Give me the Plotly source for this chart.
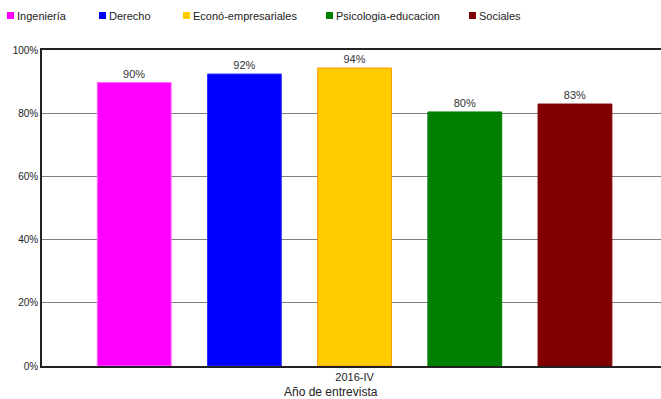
import plotly.graph_objects as go

periods = ["2016-IV"]
series_names = ["Ingeniería", "Derecho", "Econó-empresariales", "Psicologia-educacion", "Sociales"]
series_values = [
    [0.897],
    [0.924],
    [0.943],
    [0.804],
    [0.829],
]
colors = ["#FF00FF", "#0000FF", "#FFCC00", "#008000", "#800000"]
edge_colors = ["#FF66FF", "#3333FF", "#FF9900", "#008000", "#800000"]
y_ticks = [0, 0.2, 0.4, 0.6, 0.8, 1.0]

# plot area in pixels (for the hand-made legend along the top)
W, H = 661, 399
L, R, T, B = 42, 0, 50, 33
pw, ph = W - L - R, H - T - B
legend_px = [7, 99, 183, 326, 469]   # left edge of each legend square


def px_x(p):
    return (p - L) / pw


def px_y(p):
    return (H - B - p) / ph


fig = go.Figure()

for name, vals, c, ec in zip(series_names, series_values, colors, edge_colors):
    fig.add_trace(go.Bar(
        x=periods, y=vals, name=name,
        marker=dict(color=c, line=dict(color=ec, width=1)),
        texttemplate="%{y:.0%}", textposition="outside",
        textfont=dict(size=11, color="#333333"),
        cliponaxis=False,
    ))

shapes = []
annotations = []
for name, c, x0 in zip(series_names, colors, legend_px):
    shapes.append(dict(
        type="rect", xref="paper", yref="paper",
        x0=px_x(x0), x1=px_x(x0 + 7), y0=px_y(19), y1=px_y(12),
        fillcolor=c, line=dict(width=0),
    ))
    annotations.append(dict(
        text=name, xref="paper", yref="paper",
        x=px_x(x0 + 8), y=px_y(15.5), xanchor="left", yanchor="middle",
        showarrow=False, font=dict(size=11, color="#222222"),
    ))

annotations.append(dict(
    text="Año de entrevista", xref="paper", yref="paper",
    x=0.467, y=0, yshift=-26, xanchor="center", yanchor="middle",
    showarrow=False, font=dict(size=12, color="#222222"),
))

fig.update_layout(
    width=W, height=H,
    margin=dict(l=L, r=R, t=T, b=B),
    paper_bgcolor="white", plot_bgcolor="white",
    font=dict(family="Liberation Sans, Arial, sans-serif", color="#222222"),
    barmode="group", bargap=0.11, bargroupgap=0.33,
    showlegend=False,
    xaxis=dict(
        range=[-0.505, 0.495],
        showline=True, linecolor="#222222", linewidth=2, mirror=True,
        ticks="", tickfont=dict(size=11), showgrid=False,
    ),
    yaxis=dict(
        range=[0, 1], tickvals=y_ticks, tickformat=".0%",
        showgrid=True, gridcolor="#808080", gridwidth=1,
        showline=True, linecolor="#222222", linewidth=1.5,
        tickfont=dict(size=10), zeroline=False, ticks="",
    ),
    shapes=shapes,
    annotations=annotations,
)

# drop the browser's default body margin so the figure sits at (0, 0)
fig.write_html("out.html", config={"displayModeBar": False},
               post_script="document.body.style.margin='0';")
